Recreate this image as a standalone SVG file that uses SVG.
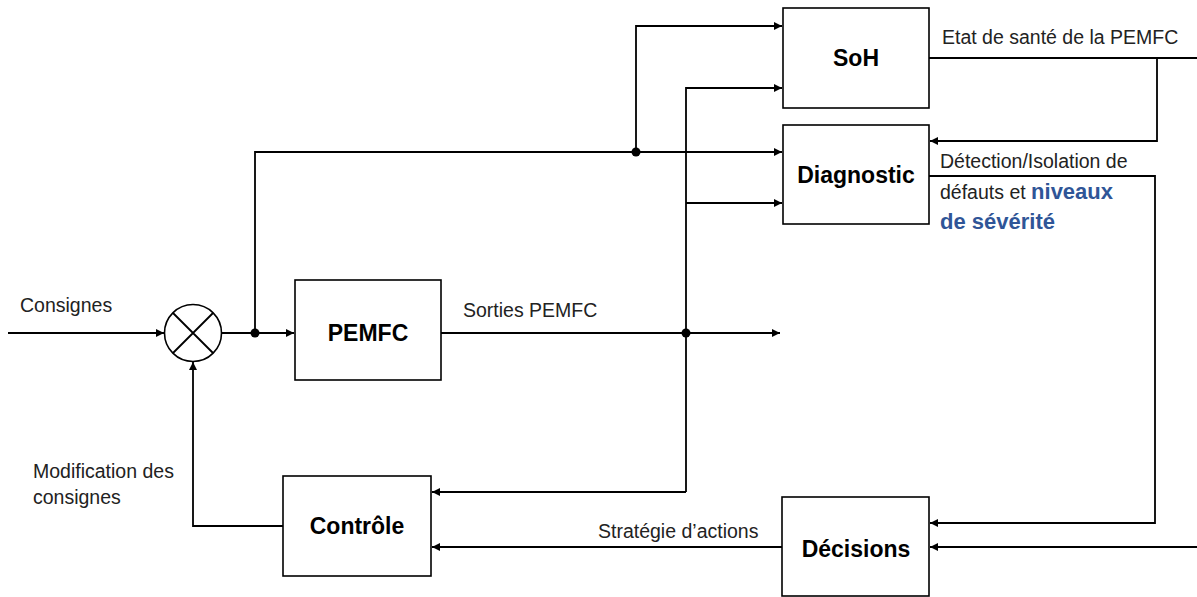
<svg xmlns="http://www.w3.org/2000/svg" width="1197" height="597" viewBox="0 0 1197 597">
<style>
.box{fill:#fff;stroke:#000;stroke-width:1.6}
.ln{fill:none;stroke:#000;stroke-width:1.8}
.lbl{font-family:"Liberation Sans",Arial,sans-serif;font-size:19.5px;fill:#222}
.bt{font-family:"Liberation Sans",Arial,sans-serif;font-size:23px;font-weight:bold;fill:#000;text-anchor:middle}
.blue{fill:#2F5597;font-weight:bold;font-size:22px}
</style>
<defs>
<marker id="ar" viewBox="0 0 10 10" refX="10" refY="5" markerWidth="10" markerHeight="8" markerUnits="userSpaceOnUse" orient="auto">
<path d="M0,0 L10,5 L0,10 z" fill="#000"/>
</marker>
</defs>
<rect width="1197" height="597" fill="#fff"/>
<g id="connectors">
<path class="ln" d="M8,333 H164" marker-end="url(#ar)"/>
<path class="ln" d="M222,333 H294" marker-end="url(#ar)"/>
<path class="ln" d="M255,333 V152 H782" marker-end="url(#ar)"/>
<path class="ln" d="M636,152 V26 H782" marker-end="url(#ar)"/>
<path class="ln" d="M441,333 H780" marker-end="url(#ar)"/>
<path class="ln" d="M686,492 V88 H782" marker-end="url(#ar)"/>
<path class="ln" d="M686,203 H782" marker-end="url(#ar)"/>
<path class="ln" d="M686,492 H432" marker-end="url(#ar)"/>
<path class="ln" d="M929,58 H1197"/>
<path class="ln" d="M1157,58 V141 H930" marker-end="url(#ar)"/>
<path class="ln" d="M929,176 H1155 V523 H930" marker-end="url(#ar)"/>
<path class="ln" d="M1197,547 H930" marker-end="url(#ar)"/>
<path class="ln" d="M782,547 H432" marker-end="url(#ar)"/>
<path class="ln" d="M283,526 H193 V362" marker-end="url(#ar)"/>
<circle cx="255" cy="333" r="4.5" fill="#000"/>
<circle cx="636" cy="152" r="4.5" fill="#000"/>
<circle cx="686" cy="333" r="4.5" fill="#000"/>
</g>
<g id="sum">
<circle cx="193" cy="333" r="28.5" fill="#fff" stroke="#000" stroke-width="1.6"/>
<path class="ln" d="M173,313 L213,353 M213,313 L173,353" stroke-width="1.5"/>
</g>
<g id="pemfc">
<rect class="box" x="295" y="280" width="146" height="100"/>
<text class="bt" x="368" y="341">PEMFC</text>
</g>
<g id="soh">
<rect class="box" x="783" y="8" width="146" height="100"/>
<text class="bt" x="856" y="66">SoH</text>
</g>
<g id="diagnostic">
<rect class="box" x="783" y="125" width="146" height="99"/>
<text class="bt" x="856" y="183">Diagnostic</text>
</g>
<g id="controle">
<rect class="box" x="283" y="476" width="148" height="100"/>
<text class="bt" x="357" y="534">Contrôle</text>
</g>
<g id="decisions">
<rect class="box" x="782" y="497" width="147" height="99"/>
<text class="bt" x="856" y="557">Décisions</text>
</g>
<g id="labels">
<text class="lbl" x="20" y="312">Consignes</text>
<text class="lbl" x="463" y="317">Sorties PEMFC</text>
<text class="lbl" x="942" y="44">Etat de santé de la PEMFC</text>
<text class="lbl" x="940" y="168" font-size="20.5">Détection/Isolation de</text>
<text class="lbl" x="940" y="199">défauts et <tspan class="blue">niveaux</tspan></text>
<text class="lbl blue" x="940" y="229">de sévérité</text>
<text class="lbl" x="598" y="538">Stratégie d’actions</text>
<text class="lbl" x="33" y="478">Modification des</text>
<text class="lbl" x="33" y="504">consignes</text>
</g>
</svg>
